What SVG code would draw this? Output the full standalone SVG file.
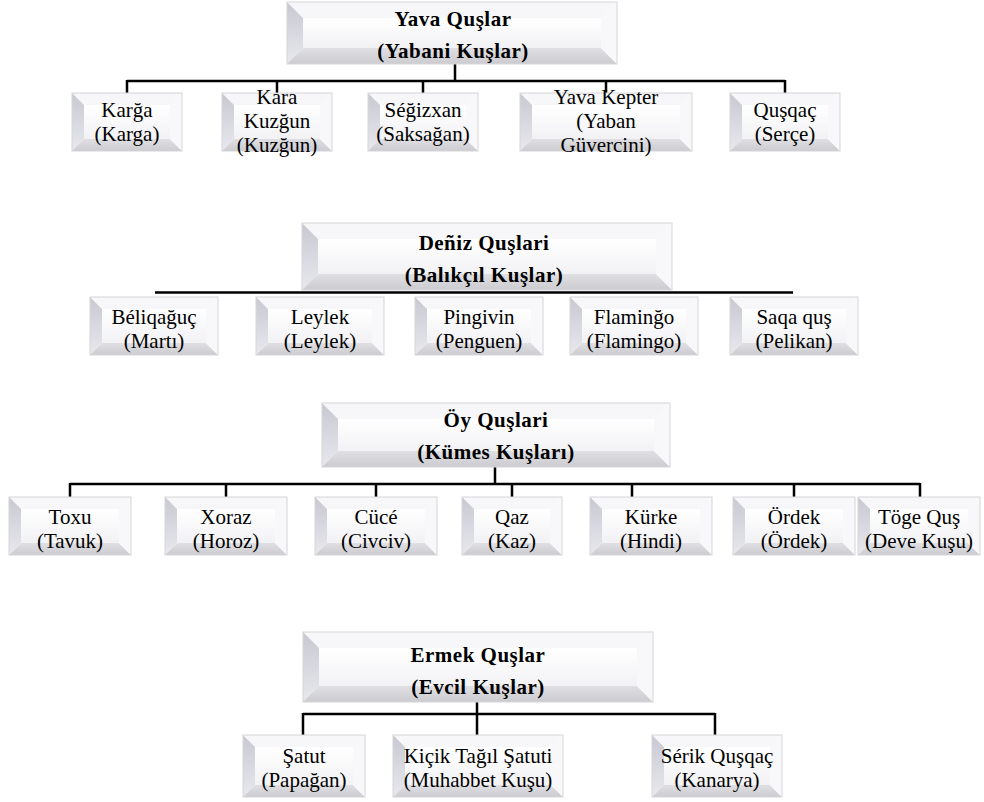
<svg xmlns="http://www.w3.org/2000/svg" xmlns:xlink="http://www.w3.org/1999/xlink" width="984" height="802" viewBox="0 0 984 802">
<defs>
<linearGradient id="gFace" x1="0" y1="0" x2="0" y2="1"><stop offset="0" stop-color="#ffffff"/><stop offset="1" stop-color="#f2f2f5"/></linearGradient>
<linearGradient id="gL" x1="0" y1="0" x2="0" y2="1"><stop offset="0" stop-color="#c8c8d2"/><stop offset="1" stop-color="#e8e8ee"/></linearGradient>
<linearGradient id="gB" x1="0" y1="0" x2="0" y2="1"><stop offset="0" stop-color="#e0e0e4"/><stop offset="1" stop-color="#cbcbd0"/></linearGradient>
<style>
.face{fill:url(#gFace)}
.bt{fill:#f7f7f9}
.bl{fill:url(#gL)}
.bb{fill:url(#gB)}
.br{fill:#f8f8fa}
.edge{fill:none;stroke:#d6d6da;stroke-width:1}
.h{font-family:"Liberation Serif","Times New Roman","DejaVu Serif",serif;font-weight:bold;font-size:21px;letter-spacing:0.5px;fill:#000;text-anchor:middle}
.t{font-family:"Liberation Serif","Times New Roman","DejaVu Serif",serif;font-size:21px;fill:#000;text-anchor:middle}
.conn path{fill:none;stroke:#000;stroke-width:2.5}
</style>
<g id="H1"><rect class="face" width="330" height="62"/><polygon class="bt" points="0,0 330,0 314,16 16,16"/><polygon class="bl" points="0,0 16,16 16,46 0,62"/><polygon class="bb" points="0,62 16,46 314,46 330,62"/><polygon class="br" points="330,0 314,16 314,46 330,62"/><rect class="face" x="16" y="16" width="298" height="30"/><rect class="edge" width="330" height="62"/></g>
<g id="H2"><rect class="face" width="370" height="67"/><polygon class="bt" points="0,0 370,0 354,16 16,16"/><polygon class="bl" points="0,0 16,16 16,51 0,67"/><polygon class="bb" points="0,67 16,51 354,51 370,67"/><polygon class="br" points="370,0 354,16 354,51 370,67"/><rect class="face" x="16" y="16" width="338" height="35"/><rect class="edge" width="370" height="67"/></g>
<g id="H3"><rect class="face" width="348" height="64"/><polygon class="bt" points="0,0 348,0 332,16 16,16"/><polygon class="bl" points="0,0 16,16 16,48 0,64"/><polygon class="bb" points="0,64 16,48 332,48 348,64"/><polygon class="br" points="348,0 332,16 332,48 348,64"/><rect class="face" x="16" y="16" width="316" height="32"/><rect class="edge" width="348" height="64"/></g>
<g id="H4"><rect class="face" width="350" height="70"/><polygon class="bt" points="0,0 350,0 334,16 16,16"/><polygon class="bl" points="0,0 16,16 16,54 0,70"/><polygon class="bb" points="0,70 16,54 334,54 350,70"/><polygon class="br" points="350,0 334,16 334,54 350,70"/><rect class="face" x="16" y="16" width="318" height="38"/><rect class="edge" width="350" height="70"/></g>
<g id="b110"><polygon class="bt" points="0,0 110,0 98,12 12,12"/><polygon class="bl" points="0,0 12,12 12,46 0,58"/><polygon class="bb" points="0,58 12,46 98,46 110,58"/><polygon class="br" points="110,0 98,12 98,46 110,58"/><rect class="face" x="12" y="12" width="86" height="34"/><rect class="edge" width="110" height="58"/></g>
<g id="b172"><polygon class="bt" points="0,0 172,0 160,12 12,12"/><polygon class="bl" points="0,0 12,12 12,46 0,58"/><polygon class="bb" points="0,58 12,46 160,46 172,58"/><polygon class="br" points="172,0 160,12 160,46 172,58"/><rect class="face" x="12" y="12" width="148" height="34"/><rect class="edge" width="172" height="58"/></g>
<g id="b128"><polygon class="bt" points="0,0 128,0 116,12 12,12"/><polygon class="bl" points="0,0 12,12 12,46 0,58"/><polygon class="bb" points="0,58 12,46 116,46 128,58"/><polygon class="br" points="128,0 116,12 116,46 128,58"/><rect class="face" x="12" y="12" width="104" height="34"/><rect class="edge" width="128" height="58"/></g>
<g id="b122"><polygon class="bt" points="0,0 122,0 110,12 12,12"/><polygon class="bl" points="0,0 12,12 12,46 0,58"/><polygon class="bb" points="0,58 12,46 110,46 122,58"/><polygon class="br" points="122,0 110,12 110,46 122,58"/><rect class="face" x="12" y="12" width="98" height="34"/><rect class="edge" width="122" height="58"/></g>
<g id="b100"><polygon class="bt" points="0,0 100,0 88,12 12,12"/><polygon class="bl" points="0,0 12,12 12,46 0,58"/><polygon class="bb" points="0,58 12,46 88,46 100,58"/><polygon class="br" points="100,0 88,12 88,46 100,58"/><rect class="face" x="12" y="12" width="76" height="34"/><rect class="edge" width="100" height="58"/></g>
<g id="c122"><polygon class="bt" points="0,0 122,0 110,12 12,12"/><polygon class="bl" points="0,0 12,12 12,50 0,62"/><polygon class="bb" points="0,62 12,50 110,50 122,62"/><polygon class="br" points="122,0 110,12 110,50 122,62"/><rect class="face" x="12" y="12" width="98" height="38"/><rect class="edge" width="122" height="62"/></g>
<g id="c170"><polygon class="bt" points="0,0 170,0 158,12 12,12"/><polygon class="bl" points="0,0 12,12 12,50 0,62"/><polygon class="bb" points="0,62 12,50 158,50 170,62"/><polygon class="br" points="170,0 158,12 158,50 170,62"/><rect class="face" x="12" y="12" width="146" height="38"/><rect class="edge" width="170" height="62"/></g>
<g id="c130"><polygon class="bt" points="0,0 130,0 118,12 12,12"/><polygon class="bl" points="0,0 12,12 12,50 0,62"/><polygon class="bb" points="0,62 12,50 118,50 130,62"/><polygon class="br" points="130,0 118,12 118,50 130,62"/><rect class="face" x="12" y="12" width="106" height="38"/><rect class="edge" width="130" height="62"/></g>
</defs>
<rect width="984" height="802" fill="#ffffff"/>

<g id="connectors" class="conn">
<path d="M455,64 V81 M127,81 H785 M127,80 V93 M277,80 V93 M423,80 V93 M606,80 V93 M785,80 V93"/>
<path d="M155,292.5 H793" stroke-width="3"/>
<path d="M495,467 V484 M70,484 H920 M70,483 V497 M226,483 V497 M376,483 V497 M512,483 V497 M632,483 V497 M794,483 V497 M920,483 V497"/>
<path d="M477,702 V735 M303,714 H715 M303,713 V735 M715,713 V735"/>
</g>

<g id="n-yava"><use xlink:href="#H1" x="287" y="2"/><text class="h" x="453" y="26">Yava Quşlar</text><text class="h" x="453" y="58">(Yabani Kuşlar)</text></g>
<g id="n-karga"><use xlink:href="#b110" x="72" y="93"/><text class="t" x="127" y="117">Karğa</text><text class="t" x="127" y="141">(Karga)</text></g>
<g id="n-kara"><use xlink:href="#b110" x="222" y="93"/><text class="t" x="277" y="104">Kara</text><text class="t" x="277" y="128">Kuzğun</text><text class="t" x="277" y="152">(Kuzğun)</text></g>
<g id="n-segizxan"><use xlink:href="#b110" x="368" y="93"/><text class="t" x="423" y="117">Séğizxan</text><text class="t" x="423" y="141">(Saksağan)</text></g>
<g id="n-kepter"><use xlink:href="#b172" x="520" y="93"/><text class="t" x="606" y="104">Yava Kepter</text><text class="t" x="606" y="128">(Yaban</text><text class="t" x="606" y="152">Güvercini)</text></g>
<g id="n-qusqac"><use xlink:href="#b110" x="730" y="93"/><text class="t" x="785" y="117">Quşqaç</text><text class="t" x="785" y="141">(Serçe)</text></g>

<g id="n-deniz"><use xlink:href="#H2" x="302" y="223"/><text class="h" x="484" y="250">Deñiz Quşlari</text><text class="h" x="484" y="282">(Balıkçıl Kuşlar)</text></g>
<g id="n-beliqaguc"><use xlink:href="#b128" x="90" y="297"/><text class="t" x="154" y="324">Béliqağuç</text><text class="t" x="154" y="348">(Martı)</text></g>
<g id="n-leylek"><use xlink:href="#b128" x="256" y="297"/><text class="t" x="320" y="324">Leylek</text><text class="t" x="320" y="348">(Leylek)</text></g>
<g id="n-pingivin"><use xlink:href="#b128" x="415" y="297"/><text class="t" x="479" y="324">Pingivin</text><text class="t" x="479" y="348">(Penguen)</text></g>
<g id="n-flamingo"><use xlink:href="#b128" x="570" y="297"/><text class="t" x="634" y="324">Flaminğo</text><text class="t" x="634" y="348">(Flamingo)</text></g>
<g id="n-saqa"><use xlink:href="#b128" x="730" y="297"/><text class="t" x="794" y="324">Saqa quş</text><text class="t" x="794" y="348">(Pelikan)</text></g>

<g id="n-oy"><use xlink:href="#H3" x="322" y="403"/><text class="h" x="496" y="427">Öy Quşlari</text><text class="h" x="496" y="459">(Kümes Kuşları)</text></g>
<g id="n-toxu"><use xlink:href="#b122" x="9" y="497"/><text class="t" x="70" y="524">Toxu</text><text class="t" x="70" y="548">(Tavuk)</text></g>
<g id="n-xoraz"><use xlink:href="#b122" x="165" y="497"/><text class="t" x="226" y="524">Xoraz</text><text class="t" x="226" y="548">(Horoz)</text></g>
<g id="n-cuce"><use xlink:href="#b122" x="315" y="497"/><text class="t" x="376" y="524">Cücé</text><text class="t" x="376" y="548">(Civciv)</text></g>
<g id="n-qaz"><use xlink:href="#b100" x="462" y="497"/><text class="t" x="512" y="524">Qaz</text><text class="t" x="512" y="548">(Kaz)</text></g>
<g id="n-kurke"><use xlink:href="#b122" x="590" y="497"/><text class="t" x="651" y="524">Kürke</text><text class="t" x="651" y="548">(Hindi)</text></g>
<g id="n-ordek"><use xlink:href="#b122" x="733" y="497"/><text class="t" x="794" y="524">Ördek</text><text class="t" x="794" y="548">(Ördek)</text></g>
<g id="n-toge"><use xlink:href="#b122" x="858" y="497"/><text class="t" x="919" y="524">Töge Quş</text><text class="t" x="919" y="548">(Deve Kuşu)</text></g>

<g id="n-ermek"><use xlink:href="#H4" x="303" y="632"/><text class="h" x="478" y="662">Ermek Quşlar</text><text class="h" x="478" y="694">(Evcil Kuşlar)</text></g>
<g id="n-satut"><use xlink:href="#c122" x="243" y="735"/><text class="t" x="304" y="763">Şatut</text><text class="t" x="304" y="787">(Papağan)</text></g>
<g id="n-kicik"><use xlink:href="#c170" x="393" y="735"/><text class="t" x="478" y="763">Kiçik Tağıl Şatuti</text><text class="t" x="478" y="787">(Muhabbet Kuşu)</text></g>
<g id="n-serik"><use xlink:href="#c130" x="652" y="735"/><text class="t" x="717" y="763">Sérik Quşqaç</text><text class="t" x="717" y="787">(Kanarya)</text></g>
</svg>
